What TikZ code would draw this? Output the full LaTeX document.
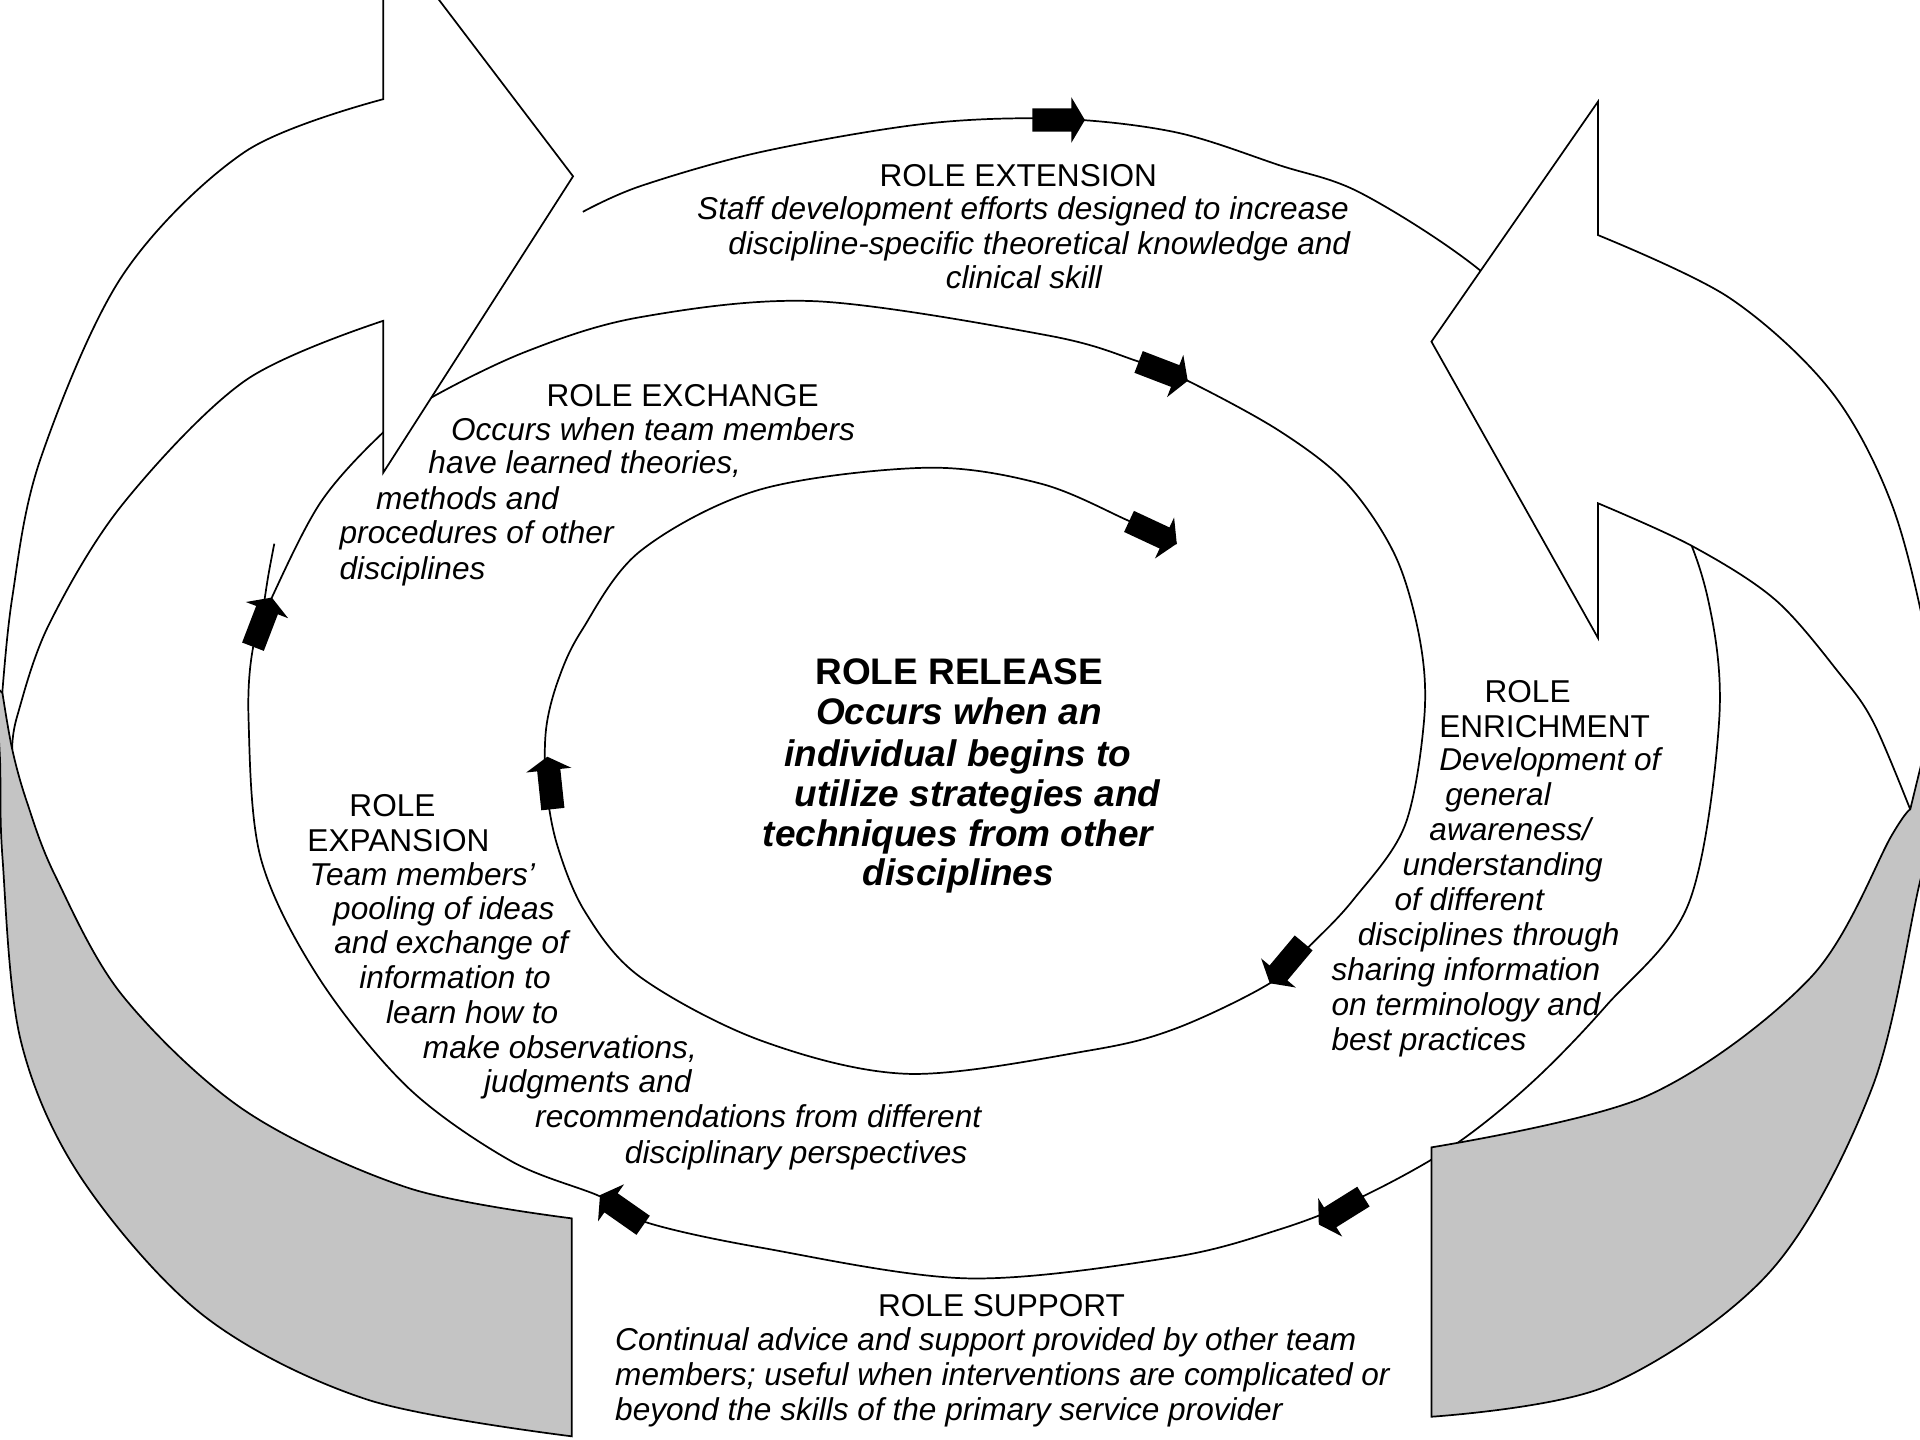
\documentclass[tikz,border=0pt]{standalone}
\usepackage{fontspec}
\setmainfont{Liberation Sans}
\definecolor{bandgray}{RGB}{196,196,196}
\newcommand{\fsnorm}{\fontsize{12.9}{14.4}\selectfont}
\newcommand{\fsbig}{\fontsize{15.1}{16.8}\selectfont\bfseries}
\tikzset{
  ttl/.style={anchor=base west, inner sep=0pt, font=\fsnorm},
  dsc/.style={anchor=base west, inner sep=0pt, font=\fsnorm\itshape},
  rttl/.style={anchor=base west, inner sep=0pt, font=\fsbig},
  rdsc/.style={anchor=base west, inner sep=0pt, font=\fsbig\itshape},
  outline/.style={draw=black, line width=0.7pt, line join=miter},
  spiralline/.style={draw=black, line width=0.7pt},
  blkarrow/.pic={\fill[black] (0,0) -- (-11,18.5) -- (-11,9.5) -- (-43,9.5) -- (-43,-9.5) -- (-11,-9.5) -- (-11,-18.5) -- cycle;}
}
\begin{document}
\begin{tikzpicture}[x=0.5pt, y=-0.5pt]
\useasboundingbox (0,0) rectangle (1568,1176);
\fill[white] (0,0) rectangle (1568,1176);
\clip (0,0) rectangle (1568,1176);

% spiral
\draw[spiralline] plot[smooth, tension=0.55] coordinates {
(476,173) (523,152) (622,124) (756,101) (864,97) (960,108) (1045,135) (1112,158) (1209,221)
(1300,310) (1365,410) (1395,490) (1404,588) (1379,738) (1312,821) (1250,885) (1185,937)
(1111,978) (1045,1004) (956,1027) (790,1044) (622,1019) (527,998) (490,977) (417,948)
(333,888) (260,798) (213,701) (203,588) (207,527) (222,488) (262,410) (312,354) (350,326)
(430,287) (523,259) (666,246) (856,274) (929,295) (970,311) (1045,352) (1100,395)
(1140,455) (1160,525) (1163,588) (1147,675) (1105,735) (1070,772) (1037,803) (960,840)
(889,858) (742,877) (622,850) (523,798) (478,745) (455,690) (446,640) (446,595)
(456,555) (475,515) (523,450) (620,400) (756,382) (850,395) (921,425) (961,444)};
\draw[spiralline] (216,490) .. controls (219,470) .. (224,444);

% left big arrow (white)
\path[outline, fill=white] (313,-60) -- (468,144) -- (313,386) -- (313,262)
  -- plot[smooth, tension=0.55] coordinates {(313,262) (200,311) (100,412) (40,510) (14,585) (10,612)}
  -- (-4,640)
  -- plot[smooth, tension=0.55] coordinates {(-4,640) (0,588) (10,488) (33,375) (100,225) (200,124) (313,81)}
  -- cycle;

% right big arrow (white)
\path[outline, fill=white] (1169,279) -- (1305,83) -- (1305,192)
  -- plot[smooth, tension=0.55] coordinates {(1305,192) (1412,243) (1495,319) (1545,412) (1575,530) (1590,640)}
  -- (1560,661)
  -- plot[smooth, tension=0.55] coordinates {(1560,661) (1530,590) (1503,551) (1450,490) (1382,446) (1305,411)}
  -- (1305,521) -- cycle;

% left gray band
\path[outline, fill=bandgray] (-4,560) -- (2,566)
  -- plot[smooth, tension=0.55] coordinates {(2,566) (10,612) (22,655) (45,715) (100,813) (200,907) (333,970) (467,995)}
  -- (467,1173)
  -- plot[smooth, tension=0.55] coordinates {(467,1173) (300,1143) (167,1075) (67,963) (17,850) (2,700) (0,620) (-4,560)}
  -- cycle;

% right gray band
\path[outline, fill=bandgray] (1560,661) -- (1570,620) -- (1585,600) -- (1585,660)
  -- plot[smooth, tension=0.55] coordinates {(1585,660) (1568,720) (1529,888) (1446,1038) (1312,1132) (1169,1157)}
  -- (1169,937)
  -- plot[smooth, tension=0.55] coordinates {(1169,937) (1345,895) (1479,798) (1545,682) (1560,661)}
  -- cycle;

% small block arrows
\pic[rotate=0] at (886,98) {blkarrow};
\pic[rotate=-21] at (970,311) {blkarrow};
\pic[rotate=-25] at (961,444) {blkarrow};
\pic[rotate=-130] at (1037,803) {blkarrow};
\pic[rotate=-148] at (1077,1000) {blkarrow};
\pic[rotate=145] at (490,976) {blkarrow};
\pic[rotate=69] at (222,488) {blkarrow};
\pic[rotate=96] at (447,618) {blkarrow};

% Role extension
\node[ttl] (ext0) at (718,152) {ROLE EXTENSION};
\node[dsc] (ext1) at (569,179.5) {Staff development efforts designed to increase};
\node[dsc] (ext2) at (594.5,207.5) {discipline-specific theoretical knowledge and};
\node[dsc] (ext3) at (772,235.5) {clinical skill};

% Role exchange
\node[ttl] (exc0) at (446,332) {ROLE EXCHANGE};
\node[dsc] (exc1) at (368,360) {Occurs when team members};
\node[dsc] (exc2) at (349.5,387) {have learned theories,};
\node[dsc] (exc3) at (306.7,416) {methods and};
\node[dsc] (exc4) at (277,444) {procedures of other};
\node[dsc] (exc5) at (277,473) {disciplines};

% Role enrichment
\node[ttl] (enr0) at (1212,574) {ROLE};
\node[ttl] (enr1) at (1175,602) {ENRICHMENT};
\node[dsc] (enr2) at (1175,629) {Development of};
\node[dsc] (enr3) at (1180,658) {general};
\node[dsc] (enr4) at (1167,686.5) {awareness/};
\node[dsc] (enr5) at (1145,715) {understanding};
\node[dsc] (enr6) at (1138.5,743.5) {of different};
\node[dsc] (enr7) at (1108.5,772) {disciplines through};
\node[dsc] (enr8) at (1087,801) {sharing information};
\node[dsc] (enr9) at (1087,829) {on terminology and};
\node[dsc] (enr10) at (1087,858) {best practices};

% Role expansion
\node[ttl] (exp0) at (285,666.5) {ROLE};
\node[ttl] (exp1) at (250.7,695) {EXPANSION};
\node[dsc] (exp2) at (252.5,723) {Team members’};
\node[dsc] (exp3) at (271.7,751) {pooling of ideas};
\node[dsc] (exp4) at (272.7,779) {and exchange of};
\node[dsc] (exp5) at (293,807) {information to};
\node[dsc] (exp6) at (315,835.5) {learn how to};
\node[dsc] (exp7) at (345,864.5) {make observations,};
\node[dsc] (exp8) at (395,892.5) {judgments and};
\node[dsc] (exp9) at (436.7,921) {recommendations from different};
\node[dsc] (exp10) at (510,950) {disciplinary perspectives};

% Role support
\node[ttl] (sup0) at (716.7,1075) {ROLE SUPPORT};
\node[dsc] (sup1) at (502,1103) {Continual advice and support provided by other team};
\node[dsc] (sup2) at (502,1131.6) {members; useful when interventions are complicated or};
\node[dsc] (sup3) at (502,1160) {beyond the skills of the primary service provider};

% Role release
\node[rttl] (rel0) at (665.6,558.6) {ROLE RELEASE};
\node[rdsc] (rel1) at (666,592) {Occurs when an};
\node[rdsc] (rel2) at (640,625.6) {individual begins to};
\node[rdsc] (rel3) at (648.6,658.6) {utilize strategies and};
\node[rdsc] (rel4) at (622.6,691) {techniques from other};
\node[rdsc] (rel5) at (704.3,722.8) {disciplines};
\end{tikzpicture}
\end{document}
